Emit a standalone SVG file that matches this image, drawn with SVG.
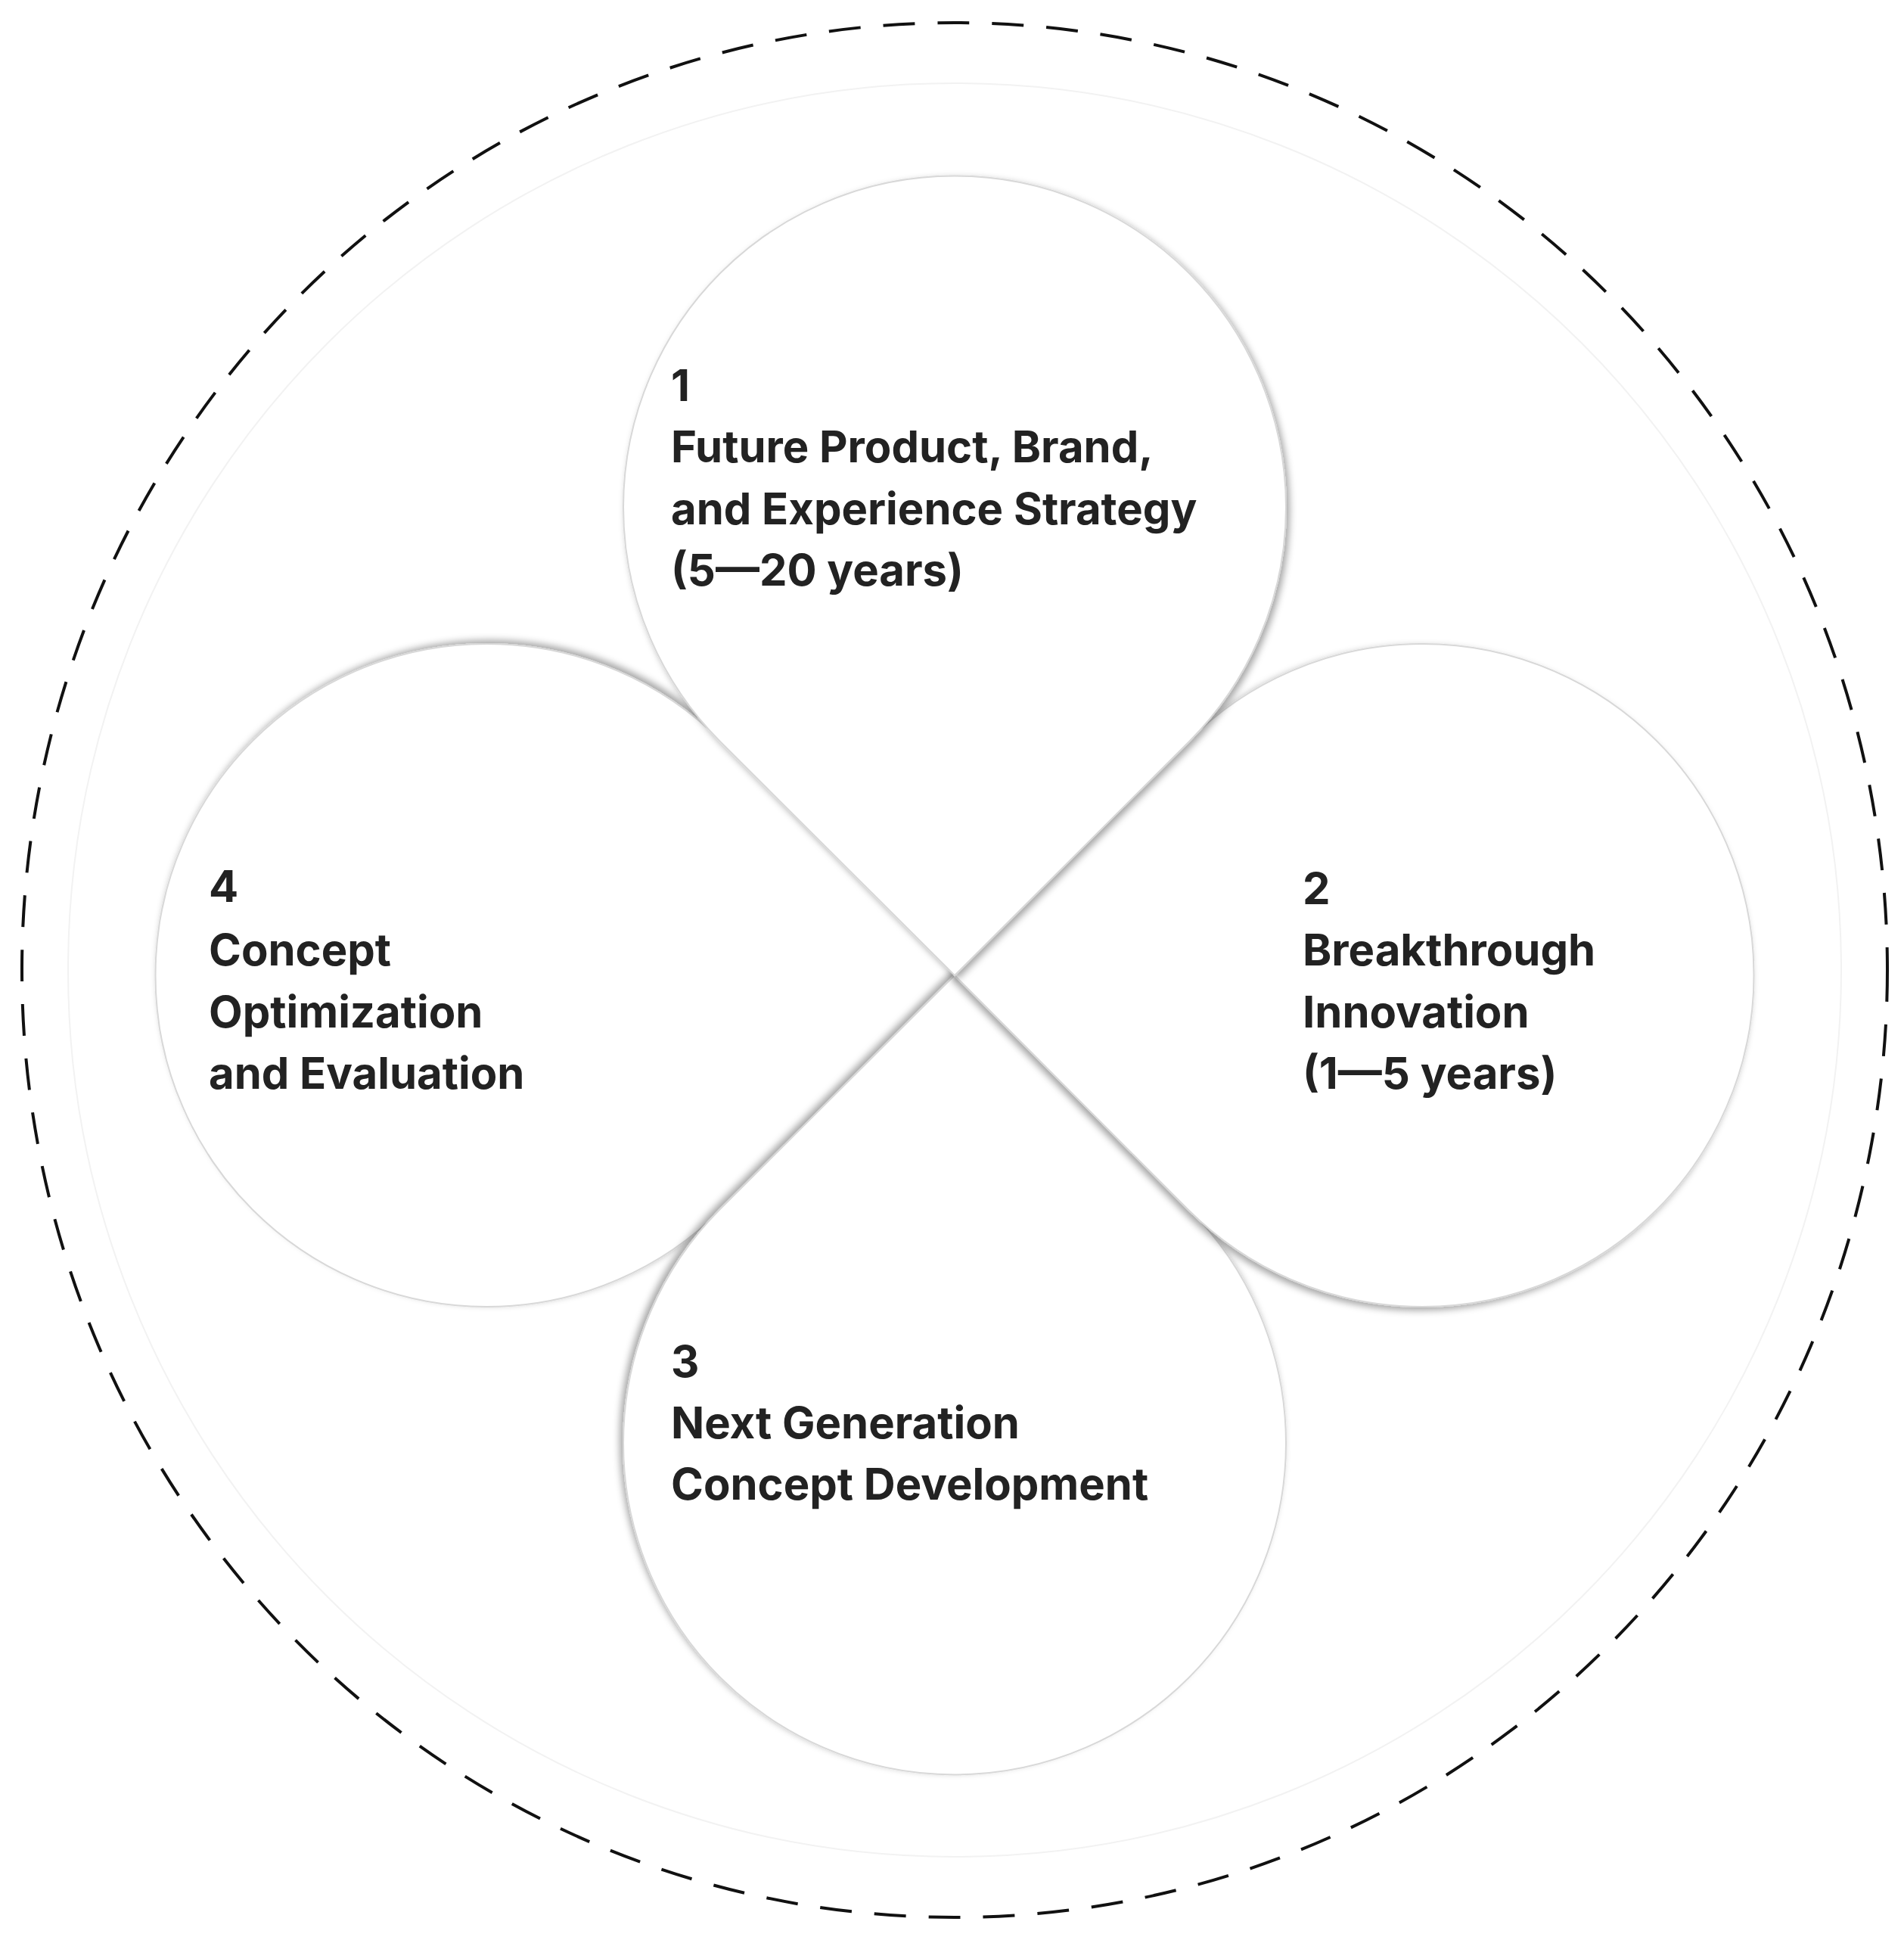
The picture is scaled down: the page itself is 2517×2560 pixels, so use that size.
<svg xmlns="http://www.w3.org/2000/svg" width="2517" height="2560" viewBox="0 0 2517 2560">
<style>
.t{font-family:"Inter","Liberation Sans",sans-serif;font-weight:700;font-size:58px;fill:#222}
.p{fill:#fff;stroke:#d8d8d8;stroke-width:2}
</style>
<defs>
<filter id="sh" x="-30%" y="-30%" width="160%" height="160%">
<feDropShadow dx="4" dy="4" stdDeviation="5" flood-color="#000" flood-opacity="0.35"/>
</filter>
<path id="petal" d="M0,0 L-310,-309 A438,438 0 1 1 310,-309 Z"/>
</defs>
<rect width="2517" height="2560" fill="#fff"/>
<ellipse cx="1262" cy="1282" rx="1233" ry="1252" fill="none" stroke="#111" stroke-width="4" stroke-dasharray="42,30"/>
<circle cx="1262" cy="1282" r="1172" fill="none" stroke="#f2f2f2" stroke-width="2"/>
<g id="petal4"><use href="#petal" class="p" filter="url(#sh)" transform="translate(1262,1289) rotate(270)"/></g>
<g id="petal3"><use href="#petal" class="p" filter="url(#sh)" transform="translate(1262,1289) rotate(180)"/></g>
<g id="petal2"><use href="#petal" class="p" filter="url(#sh)" transform="translate(1262,1289) rotate(90)"/></g>
<g id="petal1"><use href="#petal" class="p" filter="url(#sh)" transform="translate(1262,1289)"/></g>
<g id="labels">
<text class="t" x="887" y="530">1</text>
<text class="t" x="887" y="611">Future Product, Brand,</text>
<text class="t" x="887" y="693">and Experience Strategy</text>
<text class="t" x="887" y="774">(5—20 years)</text>
<text class="t" x="1722" y="1195">2</text>
<text class="t" x="1722" y="1276">Breakthrough</text>
<text class="t" x="1722" y="1358">Innovation</text>
<text class="t" x="1722" y="1439">(1—5 years)</text>
<text class="t" x="887" y="1820">3</text>
<text class="t" x="887" y="1901">Next Generation</text>
<text class="t" x="887" y="1982">Concept Development</text>
<text class="t" x="276" y="1192">4</text>
<text class="t" x="276" y="1276">Concept</text>
<text class="t" x="276" y="1358">Optimization</text>
<text class="t" x="276" y="1439">and Evaluation</text>
</g>
</svg>
